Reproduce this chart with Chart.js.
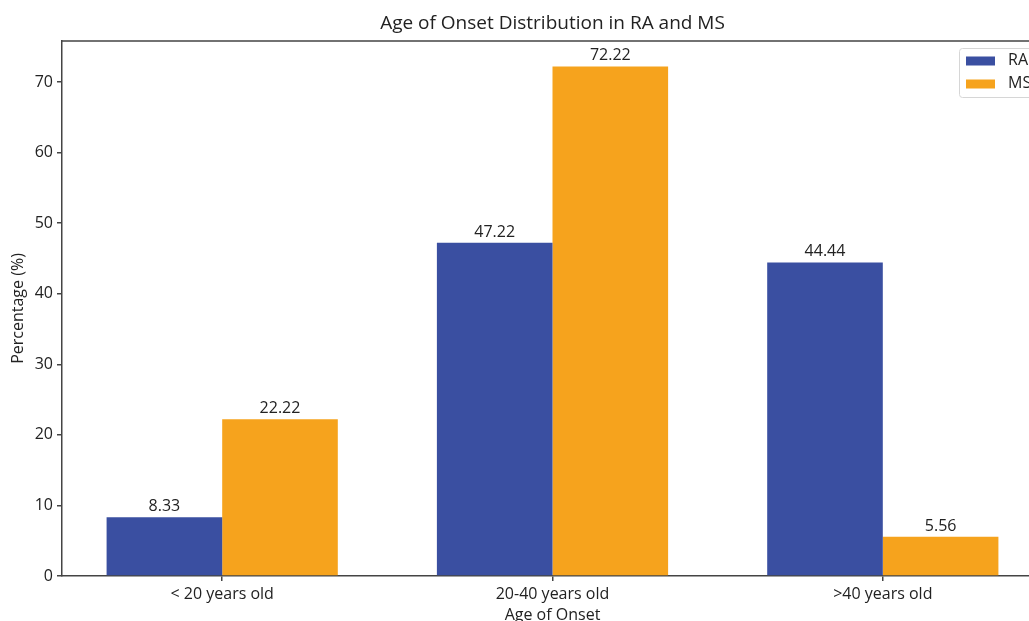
<!DOCTYPE html>
<html>
<head>
<meta charset="utf-8">
<script src="https://cdn.jsdelivr.net/npm/chart.js"></script>
<style>
html,body{margin:0;padding:0;background:#fff;overflow:hidden;width:1029px;height:621px;}
#wrap{width:1060px;height:621px;}
</style>
</head>
<body>
<div id="wrap"><canvas id="c" width="1060" height="621"></canvas></div>
<script>
const categories = ['< 20 years old', '20-40 years old', '>40 years old'];
const raValues = [8.33, 47.22, 44.44];
const msValues = [22.22, 72.22, 5.56];
const yTicks = [0, 10, 20, 30, 40, 50, 60, 70];
const seriesNames = ['RA', 'MS'];
const seriesColors = ['#3a4fa1', '#f6a31d'];
const chartTitle = 'Age of Onset Distribution in RA and MS';
const yMax = 75.83;

const FONT = 'Open Sans';
const AXIS = '#444';
const TEXT = '#222';

const toPoints = vals => vals.map((v, i) => ({x: i, y: v}));

const valueLabels = {
  id: 'valueLabels',
  afterDatasetsDraw(chart) {
    const ctx = chart.ctx;
    ctx.save();
    ctx.font = '16px "' + FONT + '"';
    ctx.fillStyle = TEXT;
    ctx.textAlign = 'center';
    ctx.textBaseline = 'alphabetic';
    chart.data.datasets.forEach((ds, di) => {
      chart.getDatasetMeta(di).data.forEach((bar, i) => {
        ctx.fillText(ds.data[i].y.toFixed(2), bar.x, bar.y - 6);
      });
    });
    ctx.restore();
  }
};

const frameAndLegend = {
  id: 'frameAndLegend',
  afterDraw(chart) {
    const ctx = chart.ctx;
    const a = chart.chartArea;
    ctx.save();
    // title centred over the plot area
    ctx.font = '19px "' + FONT + '"';
    ctx.fillStyle = TEXT;
    ctx.textAlign = 'center';
    ctx.textBaseline = 'middle';
    ctx.fillText(chartTitle, (a.left + a.right) / 2, 24);
    // top / right spines
    ctx.strokeStyle = AXIS;
    ctx.lineWidth = 1.5;
    ctx.beginPath();
    ctx.moveTo(a.left, a.top);
    ctx.lineTo(a.right, a.top);
    ctx.lineTo(a.right, a.bottom);
    ctx.stroke();
    // legend
    const w = 77, h = 49;
    const x0 = a.right - 7 - w, y0 = a.top + 7;
    ctx.fillStyle = 'rgba(255,255,255,0.85)';
    ctx.strokeStyle = '#d6d6d6';
    ctx.lineWidth = 1;
    ctx.beginPath();
    ctx.roundRect(x0 + 0.5, y0 + 0.5, w, h, 3);
    ctx.fill();
    ctx.stroke();
    ctx.font = '16px "' + FONT + '"';
    ctx.textAlign = 'left';
    ctx.textBaseline = 'middle';
    chart.data.datasets.forEach((ds, i) => {
      const cy = y0 + 12.5 + i * 23;
      ctx.fillStyle = ds.backgroundColor;
      ctx.fillRect(x0 + 7, cy - 4, 29, 9);
      ctx.fillStyle = TEXT;
      ctx.fillText(ds.label, x0 + 49, cy);
    });
    ctx.restore();
  }
};

new Chart(document.getElementById('c'), {
  type: 'bar',
  data: {
    datasets: [
      {label: seriesNames[0], data: toPoints(raValues), backgroundColor: seriesColors[0], borderWidth: 0},
      {label: seriesNames[1], data: toPoints(msValues), backgroundColor: seriesColors[1], borderWidth: 0}
    ]
  },
  options: {
    responsive: false,
    animation: false,
    layout: {padding: {left: 0, right: 17, top: 41, bottom: 0}},
    datasets: {bar: {categoryPercentage: 0.7, barPercentage: 1.0, grouped: true}},
    plugins: {
      legend: {display: false},
      tooltip: {enabled: false},
      title: {display: false}
    },
    scales: {
      x: {
        type: 'linear',
        offset: false,
        min: -0.485,
        max: 2.485,
        afterBuildTicks(s) { s.ticks = categories.map((c, i) => ({value: i})); },
        afterFit(s) { s.height = 45; },
        ticks: {
          callback: (v) => categories[v],
          color: TEXT,
          font: {family: FONT, size: 16},
          padding: 4,
          maxRotation: 0,
          autoSkip: false
        },
        grid: {display: true, offset: false, drawOnChartArea: false, drawTicks: true, tickLength: 5, color: AXIS, lineWidth: 1.5},
        border: {display: true, color: AXIS, width: 1.5},
        title: {display: true, text: 'Age of Onset', color: TEXT, font: {family: FONT, size: 16}, padding: {top: 0, bottom: -4}}
      },
      y: {
        min: 0,
        max: yMax,
        afterBuildTicks(s) { s.ticks = yTicks.map(v => ({value: v})); },
        afterFit(s) { s.width = 62; },
        ticks: {color: TEXT, font: {family: FONT, size: 16}, padding: 4},
        grid: {display: true, drawOnChartArea: false, drawTicks: true, tickLength: 5, color: AXIS, lineWidth: 1.5},
        border: {display: true, color: AXIS, width: 1.5},
        title: {display: true, text: 'Percentage (%)', color: TEXT, font: {family: FONT, size: 16}, padding: {top: 9, bottom: 0}}
      }
    }
  },
  plugins: [valueLabels, frameAndLegend]
});
</script>
</body>
</html>
